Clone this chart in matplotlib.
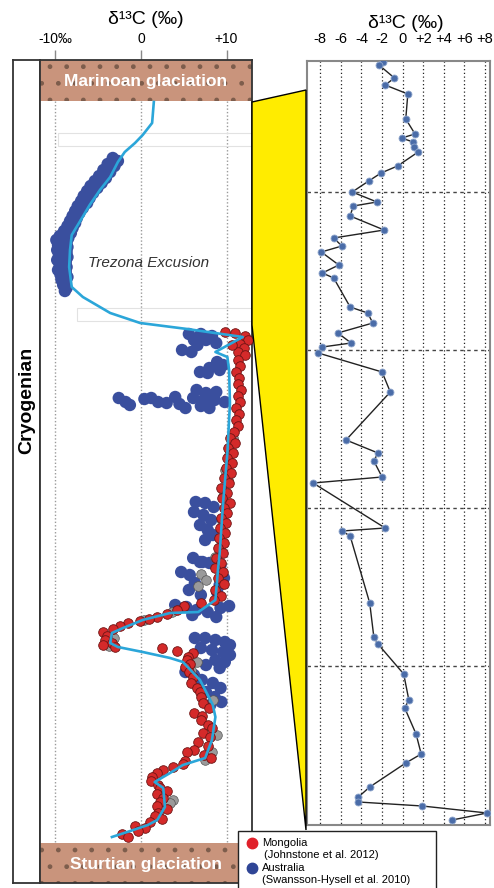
import matplotlib
matplotlib.use("Agg")
import matplotlib.pyplot as plt
from matplotlib.patches import Rectangle, Polygon

plt.rcParams['font.family'] = ['Liberation Sans', 'DejaVu Sans']

# ---- data (left panel: depth in section, d13C permil) ----
# smoothing curve
curve_depth = [102, 123, 135, 143, 152, 162, 177, 190, 205, 218, 235, 250, 267, 287, 297, 313, 323,
               329, 337, 352, 357, 370, 403, 453, 503, 553, 570, 600, 612, 613, 620, 628, 633, 643,
               647, 652, 658, 662, 680, 705, 717, 740, 758, 765, 773, 782, 788, 807, 820, 825, 830, 837]
curve_d13c = [1.5, 1.3, 0.2, -0.7, -1.9, -2.7, -3.6, -4.8, -6.0, -6.9, -8.1, -8.3, -8.4, -8.1, -6.8, -3.6, -0.1,
              5.4, 11.9, 8.7, 10.1, 10.3, 10.4, 10.1, 9.6, 9.2, 9.0, 8.7, 6.7, 3.4, 0.2, -2.1, -3.4, -3.6,
              -2.7, 0.2, 3.4, 4.9, 6.9, 8.4, 8.7, 8.3, 7.5, 4.9, 3.4, 1.6, 2.6, 2.8, 1.9, 0.8, -0.9, -3.4]

# Australia (Swanson-Hysell et al. 2010)
aus_depth = [158, 161, 164, 166, 170, 172, 176, 178, 181, 183, 186, 188, 191, 193, 196, 198, 201, 203,
             206, 208, 211, 213, 216, 218, 221, 223, 226, 228, 231, 233, 236, 238, 240, 242, 245, 247,
             250, 252, 255, 257, 260, 262, 265, 267, 270, 272, 275, 277, 280, 282, 285, 288, 291,
             334, 334, 336, 340, 340, 343, 345, 350, 352,
             362, 365, 368, 372, 373, 370,
             398, 402, 405, 399, 398, 402, 403, 397, 404, 408, 390, 393, 392, 398, 400, 400, 402, 406, 408,
             502, 503, 507, 512, 515, 520, 525, 530, 535, 540, 558, 562,
             562, 563, 565, 572, 575, 578, 583, 585, 590, 592, 595,
             605, 607, 610, 612, 608, 606, 615, 617,
             638, 638, 640, 642, 645, 648, 650, 652, 655, 660, 662, 665, 668,
             672, 675, 680, 683, 688, 692, 697, 702, 705]
aus_d13c = [-3.3, -2.7, -3.9, -3.1, -4.4, -3.6, -4.9, -4.1, -5.4, -4.6, -5.9, -5.1, -6.3, -5.6, -6.7, -6.0, -7.0, -6.3,
            -7.4, -6.8, -7.7, -7.2, -8.0, -7.5, -8.3, -7.7, -8.6, -8.0, -9.0, -8.2, -9.5, -8.5, -9.9, -8.7, -9.7, -8.6,
            -9.8, -8.7, -9.6, -8.6, -9.8, -8.8, -9.5, -8.7, -9.7, -8.8, -9.4, -8.6, -9.3, -8.8, -9.1, -8.7, -8.9,
            5.6, 7.0, 8.3, 6.2, 7.6, 8.8, 6.6, 4.8, 5.9,
            8.9, 9.6, 8.0, 6.9, 7.8, 9.2,
            -2.6, -1.8, -1.3, 0.4, 1.2, 2.0, 3.0, 4.0, 4.5, 5.2, 6.5, 7.6, 8.8, 6.1, 7.3, 8.6, 9.8, 7.0, 8.0,
            6.4, 7.5, 8.5, 6.2, 7.3, 8.2, 6.9, 7.8, 8.4, 7.5, 6.1, 7.2,
            6.9, 8.0, 9.3, 4.7, 5.7, 9.7, 6.3, 9.2, 5.6, 8.9, 7.0,
            4.0, 5.3, 6.5, 7.8, 9.3, 10.3, 6.0, 8.8,
            6.3, 7.5, 8.7, 9.8, 10.4, 7.0, 8.3, 9.6, 10.4, 8.7, 9.8, 7.6, 9.2,
            5.2, 6.2, 7.1, 8.4, 9.3, 7.6, 8.6, 9.4, 8.1]

# Mongolia (Johnston et al. 2012)
mon_depth = [332, 333, 336, 340, 344, 348, 352, 355, 345,
             360, 366, 372, 378, 384, 390, 396, 402, 408, 414, 420, 426,
             432, 438, 443, 448, 453, 458, 463, 468, 473, 478, 483, 488, 493, 498, 503, 508, 513, 518,
             523, 528, 533, 538, 543, 548, 553, 558, 563,
             568, 572, 578, 584, 590, 596, 600, 603, 606, 610, 614, 617, 619, 621, 623, 626, 629, 632,
             636, 640, 643, 645, 647,
             648, 651, 653, 657, 660, 664, 667, 672, 677, 683, 688, 692, 697, 703, 708, 713, 716, 720,
             725, 728, 733, 737, 742, 746, 750, 752, 755, 758, 761, 764, 767, 770, 773, 777, 781, 785,
             788, 791, 794, 798, 802, 806, 809, 813, 816, 819, 822, 826, 828, 831, 834, 837]
mon_d13c = [9.8, 11.0, 12.2, 12.5, 11.6, 12.0, 11.3, 12.2, 10.6,
            11.4, 11.6, 11.1, 11.5, 11.3, 11.7, 11.4, 11.6, 11.1, 11.5, 11.1, 11.3,
            10.9, 10.4, 11.0, 10.2, 10.8, 10.0, 10.6, 9.9, 10.5, 9.7, 10.3, 9.3, 10.0, 9.5, 10.4, 9.7, 10.1, 9.4,
            9.9, 9.2, 9.8, 9.1, 9.7, 9.0, 9.6, 8.8, 9.4,
            8.6, 9.6, 9.0, 9.7, 8.7, 9.4, 8.5, 7.0, 5.0, 4.2, 3.0, 1.9, 0.9, -0.1, -1.5, -2.4, -3.3, -4.4,
            -4.0, -4.2, -3.4, -4.4, -3.0,
            2.5, 4.2, 6.1, 5.5, 5.4, 5.7, 5.1, 5.6, 6.1, 5.8, 6.6, 6.9, 7.0, 7.3, 8.0, 6.2, 7.1, 7.0,
            7.8, 8.3, 7.3, 8.1, 6.7, 7.8, 6.2, 5.4, 7.4, 8.2, 5.2, 4.9, 3.7, 2.6, 1.9, 1.3, 1.2, 2.0,
            2.2, 3.0, 1.9, 2.6, 2.2, 1.9, 3.0, 2.0, 1.6, 2.4, 1.0, -0.7, 0.5, -0.3, -2.2, -1.5]

# unassigned (grey) samples
grey_depth = [438, 455, 470, 480, 496, 521, 545, 557, 574, 580, 586, 612, 620, 638, 646, 662, 670, 700, 735,
              752, 760, 800, 803]
grey_d13c = [10.7, 10.3, 9.8, 10.2, 9.6, 9.5, 9.3, 8.6, 7.0, 7.6, 6.7, 3.6, 0.3, -3.2, -3.8, 6.5, 5.9, 8.4, 8.9,
             8.3, 7.5, 3.7, 3.4]

# ---- data (right panel: Trezona detail) ----
tz_depth = [62, 65, 78, 85, 94, 119, 134, 138, 142, 147, 152, 166, 173, 181, 192, 202, 206, 216, 230, 238,
            246, 252, 265, 273, 278, 307, 313, 323, 333, 343, 347, 353, 372, 392, 440, 453, 461, 477, 483,
            528, 531, 536, 603, 637, 644, 674, 700, 708, 734, 754, 763, 787, 797, 802, 806, 813, 820]
tz_d13c = [-1.9, -2.3, -0.8, -1.7, 0.5, 0.3, 1.2, -0.1, 1.0, 1.1, 1.5, -0.5, -2.1, -3.3, -4.9, -2.5, -4.8,
           -5.1, -1.8, -6.7, -5.9, -7.9, -6.2, -7.8, -6.7, -5.1, -3.4, -2.9, -6.3, -5.0, -7.8, -8.2, -2.0,
           -1.2, -5.5, -2.4, -2.8, -2.0, -8.7, -1.7, -5.9, -5.1, -3.2, -2.8, -2.4, 0.1, 0.6, 0.2, 1.3, 1.8,
           0.3, -3.2, -4.3, -4.3, 1.9, 8.2, 4.8]
tz_ticks = [-8, -6, -4, -2, 0, 2, 4, 6, 8]
tz_tick_labels = ['-8', '-6', '-4', '-2', '0', '+2', '+4', '+6', '+8']
tz_hlines = [192, 350, 508, 666]

left_ticks = [-10, 0, 10]
left_tick_labels = ['-10‰', '0', '+10']

W, H = 494, 888
fig = plt.figure(figsize=(W / 100, H / 100), dpi=100)


def box(x0, y0, x1, y1):
    return [x0 / W, 1 - y1 / H, (x1 - x0) / W, (y1 - y0) / H]


frame_col = '#333333'
brown = '#c9947c'
blue = '#3a4f9e'
red = '#d42a2a'
cyan = '#2ba6d9'

# Cryogenian column
axc = fig.add_axes(box(13, 60, 40, 883))
axc.set_xticks([])
axc.set_yticks([])
axc.set_ylim(883, 60)
for s in axc.spines.values():
    s.set_color(frame_col)
    s.set_linewidth(1.3)
axc.text(0.5, 400, 'Cryogenian', rotation=90, ha='center', va='center',
         fontsize=14, fontweight='bold', transform=axc.get_yaxis_transform())

# main left panel
ax = fig.add_axes(box(40, 60, 252, 883))
ax.set_xlim(-11.81, 12.98)
ax.set_ylim(883, 60)
for s in ax.spines.values():
    s.set_color(frame_col)
    s.set_linewidth(1.3)
ax.set_yticks([])
ax.xaxis.tick_top()
ax.set_xticks(left_ticks)
ax.set_xticklabels(left_tick_labels, fontsize=10)
ax.tick_params(axis='x', length=7, width=1, color='#888888', pad=3, direction='out')

ax.vlines(left_ticks, 101, 843, colors='#9a9a9a', linestyles=(0, (1, 1.5)), linewidth=1, zorder=1)

for y0, y1, label in [(60, 101, 'Marinoan glaciation'), (843, 883, 'Sturtian glaciation')]:
    ax.axhspan(y0, y1, facecolor=brown, edgecolor='#7d5d4c', hatch='.', linewidth=0, zorder=2)
    ax.text(0.5, (y0 + y1) / 2 + 1, label, transform=ax.get_yaxis_transform(), ha='center', va='center',
            color='white', fontsize=12.5, fontweight='bold', zorder=5)

# faint scan artefacts
ax.add_patch(Rectangle((-9.7, 133), 22.7, 13, facecolor='none', edgecolor='#e2e2e2', lw=0.8, zorder=1))
ax.add_patch(Rectangle((-7.5, 308), 20.5, 13, facecolor='none', edgecolor='#e2e2e2', lw=0.8, zorder=1))

ax.scatter(aus_d13c, aus_depth, s=80, color=blue, edgecolor='none', zorder=3)
ax.scatter(grey_d13c, grey_depth, s=48, color='#9a9a9a', edgecolor='#555555', linewidth=0.5, zorder=4)
ax.scatter(mon_d13c, mon_depth, s=48, color=red, edgecolor='#6e1414', linewidth=0.6, zorder=4)
ax.plot(curve_d13c, curve_depth, color=cyan, lw=1.9, zorder=6)

ax.text(-6.2, 263, 'Trezona Excusion', ha='left', va='center', style='italic', fontsize=11,
        color='#333333', zorder=6)

# right panel
ax2 = fig.add_axes(box(307, 61, 490, 825))
ax2.set_xlim(-9.29, 8.48)
ax2.set_ylim(825, 61)
for s in ax2.spines.values():
    s.set_color('#888888')
    s.set_linewidth(1.5)
ax2.set_yticks([])
ax2.xaxis.tick_top()
ax2.set_xticks(tz_ticks)
ax2.set_xticklabels(tz_tick_labels, fontsize=10.5)
ax2.tick_params(axis='x', length=0, pad=11)
ax2.vlines(tz_ticks, 61, 825, colors='#222222', linestyles=(0, (1, 2)), linewidth=0.9, zorder=1)
ax2.hlines(tz_hlines, -9.29, 8.48, colors='#444444', linestyles=(0, (2.5, 2.5)), linewidth=1, zorder=1)
ax2.plot(tz_d13c, tz_depth, color='#222222', lw=1, zorder=3, marker='o', markersize=5,
         markerfacecolor='#4a6ca8', markeredgecolor='#8fa6cc', markeredgewidth=0.6)

# titles
fig.text(146 / W, 1 - 19 / H, 'δ¹³C (‰)', ha='center', va='center', fontsize=14)
fig.text(406 / W, 1 - 23 / H, 'δ¹³C (‰)', ha='center', va='center', fontsize=14)

# overlay: yellow link and legend
ov = fig.add_axes([0, 0, 1, 1], zorder=10)
ov.set_xlim(0, W)
ov.set_ylim(H, 0)
ov.axis('off')
ov.add_patch(Polygon([(252, 102), (306, 90), (306, 830), (252, 325)], closed=True,
                     facecolor='#ffec00', edgecolor='black', lw=1))
ov.add_patch(Rectangle((238, 831), 198, 60, facecolor='white', edgecolor='#222222', lw=1))
ov.plot([252], [843], 'o', markersize=7.5, color='#e0202a')
ov.plot([252], [868], 'o', markersize=7.5, color='#2f4596')
ov.text(262, 843, 'Mongolia', fontsize=8, va='center', ha='left')
ov.text(264, 855, '(Johnstone et al. 2012)', fontsize=8, va='center', ha='left')
ov.text(262, 868, 'Australia', fontsize=8, va='center', ha='left')
ov.text(262, 880, '(Swansson-Hysell et al. 2010)', fontsize=8, va='center', ha='left')

fig.savefig('out.png', dpi=100)
